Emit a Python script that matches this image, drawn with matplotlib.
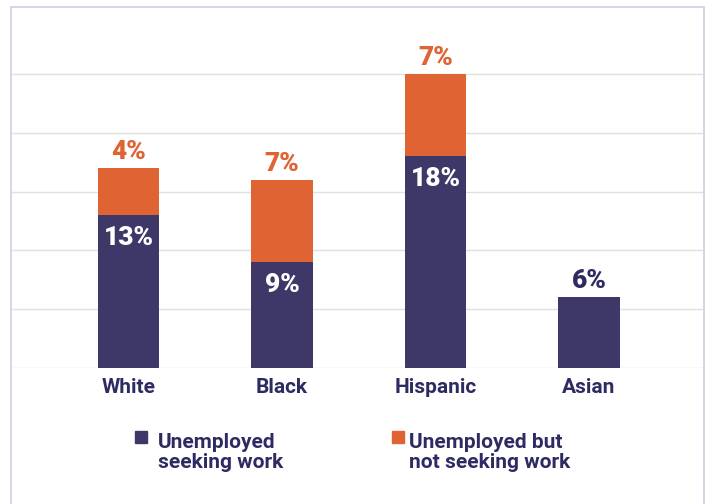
import matplotlib.pyplot as plt
from matplotlib.patches import Rectangle

groups = ["White", "Black", "Hispanic", "Asian"]
seeking = [13, 9, 18, 6]
not_seeking = [4, 7, 7, 0]
legend_labels = ["Unemployed\nseeking work", "Unemployed but\nnot seeking work"]

navy = "#3d3868"
orange = "#e06334"
ink = "#2e2b63"

plt.rcParams['font.family'] = ['Roboto', 'DejaVu Sans']

W, H = 707, 504
fig = plt.figure(figsize=(W / 100, H / 100), dpi=100)
ax = fig.add_axes([12 / W, (H - 368) / H, 692 / W, (368 - 15) / H])

x = range(len(groups))
b1 = ax.bar(x, seeking, width=0.4, color=navy, zorder=3)
b2 = ax.bar(x, not_seeking, width=0.4, bottom=seeking, color=orange, zorder=3)

for i, (s, n) in enumerate(zip(seeking, not_seeking)):
    if n > 0:
        # seeking share inside the bar, white
        ax.annotate(f"{s}%", (i, s), xytext=(0, -8), textcoords="offset points",
                    ha="center", va="top", color="white", fontsize=19, fontweight="heavy")
        ax.annotate(f"{n}%", (i, s + n), xytext=(0, 3), textcoords="offset points",
                    ha="center", va="bottom", color=orange, fontsize=19, fontweight="heavy")
    else:
        ax.annotate(f"{s}%", (i, s), xytext=(0, 3), textcoords="offset points",
                    ha="center", va="bottom", color=ink, fontsize=19, fontweight="heavy")

ax.set_xlim(-0.76, 3.75)
ax.set_ylim(0, 30)
ax.set_yticks([0, 5, 10, 15, 20, 25])
ax.yaxis.grid(True, color="#e0e0e0", linewidth=1.0, zorder=0)
ax.set_yticklabels([])
ax.tick_params(axis="y", length=0)
ax.set_xticks(list(x))
ax.set_xticklabels(groups, fontsize=15, fontweight="bold", color=ink)
ax.tick_params(axis="x", length=0, pad=7)
for s in ax.spines.values():
    s.set_visible(False)

# legend drawn by hand
legend_x = [(135, 158), (392, 409)]
for (sx, tx), col, lab in zip(legend_x, [navy, orange], legend_labels):
    fig.add_artist(Rectangle((sx / W, (H - 443) / H), 12 / W, 12 / H,
                             transform=fig.transFigure, color=col))
    fig.text(tx / W, (H - 468) / H, lab, ha="left", va="baseline",
             fontsize=15, fontweight="bold", color=ink, linespacing=1.1)

# outer frame, open at the bottom
fig.add_artist(Rectangle((11 / W, -0.05), 693 / W, (H - 7) / H + 0.05,
                         transform=fig.transFigure, fill=False,
                         edgecolor="#d2d2e2", linewidth=1.3))

fig.savefig("out.png", dpi=100)
